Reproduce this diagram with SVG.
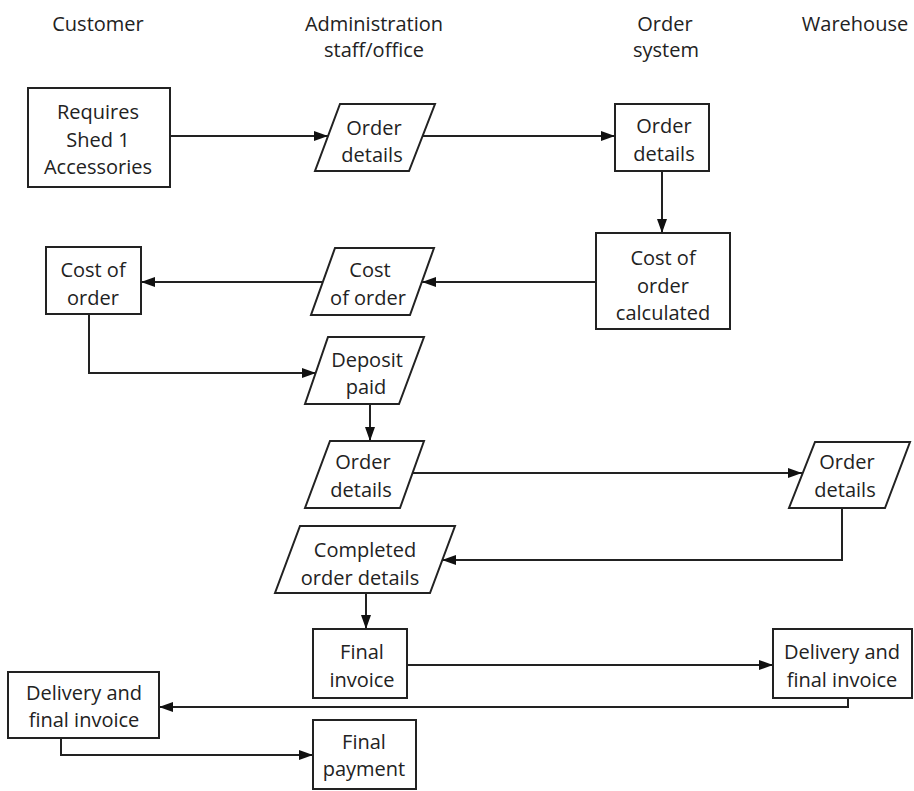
<svg xmlns="http://www.w3.org/2000/svg" width="914" height="791" viewBox="0 0 914 791">
<style>
text{font-family:"Open Sans","Noto Sans","Liberation Sans",sans-serif;font-size:20px;fill:#222;text-anchor:middle}
.n{fill:#fff;stroke:#222;stroke-width:2}
.c{fill:none;stroke:#222;stroke-width:2}
</style>
<defs>
<marker id="ah" viewBox="0 0 14 10" refX="14" refY="5" markerWidth="14" markerHeight="10" markerUnits="userSpaceOnUse" orient="auto">
<path d="M0,0 L14,5 L0,10 Z" fill="#111"/>
</marker>
</defs>
<rect width="914" height="791" fill="#fff"/>
<g id="headers">
<text x="98" y="31">Customer</text>
<text x="374" y="31">Administration</text>
<text x="374" y="57">staff/office</text>
<text x="665" y="31">Order</text>
<text x="666" y="57">system</text>
<text x="855" y="31">Warehouse</text>
</g>
<g id="connectors">
<path class="c" d="M170,136 H328" marker-end="url(#ah)"/>
<path class="c" d="M423,136 H615" marker-end="url(#ah)"/>
<path class="c" d="M662,171 V233" marker-end="url(#ah)"/>
<path class="c" d="M596,282 H422" marker-end="url(#ah)"/>
<path class="c" d="M323,282 H141" marker-end="url(#ah)"/>
<path class="c" d="M89,314 V373 H316" marker-end="url(#ah)"/>
<path class="c" d="M370,404 V441" marker-end="url(#ah)"/>
<path class="c" d="M412,473 H802" marker-end="url(#ah)"/>
<path class="c" d="M842,508 V560 H442" marker-end="url(#ah)"/>
<path class="c" d="M366,593 V629" marker-end="url(#ah)"/>
<path class="c" d="M407,665 H773" marker-end="url(#ah)"/>
<path class="c" d="M848,698 V707 H159" marker-end="url(#ah)"/>
<path class="c" d="M61,738 V755 H313" marker-end="url(#ah)"/>
</g>
<g id="n1"><rect class="n" x="28" y="88" width="142" height="99"/>
<text x="98" y="119">Requires</text><text x="98" y="147">Shed 1</text><text x="98" y="174">Accessories</text></g>
<g id="n2"><path class="n" d="M340,104 H435 L409,171 H315 Z"/>
<text x="374" y="135">Order</text><text x="372" y="162">details</text></g>
<g id="n3"><rect class="n" x="615" y="104" width="94" height="67"/>
<text x="664" y="133">Order</text><text x="664" y="161">details</text></g>
<g id="n4"><rect class="n" x="596" y="233" width="134" height="96"/>
<text x="663" y="265">Cost of</text><text x="663" y="293">order</text><text x="663" y="320">calculated</text></g>
<g id="n5"><path class="n" d="M335,248 H434 L410,315 H311 Z"/>
<text x="370" y="277">Cost</text><text x="368" y="305">of order</text></g>
<g id="n6"><rect class="n" x="46" y="247" width="95" height="67"/>
<text x="93" y="277">Cost of</text><text x="93" y="305">order</text></g>
<g id="n7"><path class="n" d="M328,337 H424 L399,404 H305 Z"/>
<text x="367" y="367">Deposit</text><text x="366" y="394">paid</text></g>
<g id="n8"><path class="n" d="M330,441 H424 L400,508 H305 Z"/>
<text x="363" y="469">Order</text><text x="361" y="497">details</text></g>
<g id="n9"><path class="n" d="M815,442 H910 L885,508 H789 Z"/>
<text x="847" y="469">Order</text><text x="845" y="497">details</text></g>
<g id="n10"><path class="n" d="M300,526 H455 L430,593 H275 Z"/>
<text x="365" y="557">Completed</text><text x="360" y="585">order details</text></g>
<g id="n11"><rect class="n" x="313" y="629" width="94" height="69"/>
<text x="362" y="659">Final</text><text x="362" y="687">invoice</text></g>
<g id="n12"><rect class="n" x="773" y="629" width="139" height="69"/>
<text x="842" y="659">Delivery and</text><text x="842" y="687">final invoice</text></g>
<g id="n13"><rect class="n" x="8" y="672" width="151" height="66"/>
<text x="84" y="700">Delivery and</text><text x="84" y="727">final invoice</text></g>
<g id="n14"><rect class="n" x="313" y="720" width="103" height="69"/>
<text x="364" y="749">Final</text><text x="364" y="776">payment</text></g>
</svg>
